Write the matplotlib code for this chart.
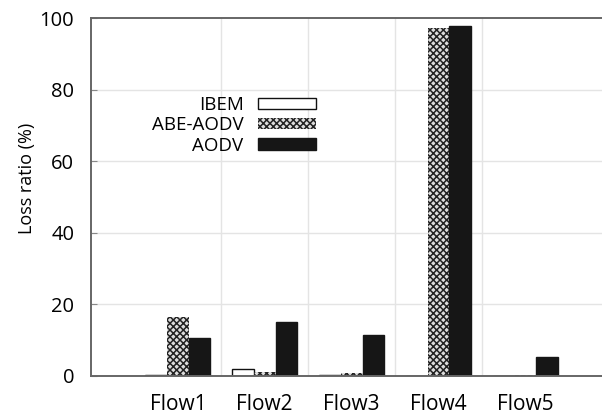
import numpy as np
import matplotlib
matplotlib.use("Agg")
import matplotlib.pyplot as plt

plt.rcParams['font.family'] = ['Open Sans', 'DejaVu Sans']
plt.rcParams['hatch.linewidth'] = 1.1

flows = ["Flow1", "Flow2", "Flow3", "Flow4", "Flow5"]
ibem = [0.2, 1.8, 0.2, 0.0, 0.0]
abe_aodv = [16.5, 1.2, 0.8, 97.2, 0.2]
aodv = [10.5, 15.1, 11.5, 97.8, 5.3]

x = np.arange(len(flows))
w = 0.25

fig = plt.figure(figsize=(6.02, 4.19), dpi=100)
ax = fig.add_axes([0.151, 0.103, 0.849, 0.854])

# light grid between the groups and at every y tick
for gx in x[:-1] + 0.5:
    ax.axvline(gx, color='#e4e4e4', lw=1, zorder=0)
for gy in [20, 40, 60, 80]:
    ax.axhline(gy, color='#e4e4e4', lw=1, zorder=0)

ax.bar(x - w, ibem, w, color='white', edgecolor='#111111', lw=1, label='IBEM', zorder=2)
ax.bar(x, abe_aodv, w, color='#dddddd', edgecolor='#222222', hatch='xxxxx', lw=0, label='ABE-AODV', zorder=2)
ax.bar(x + w, aodv, w, color='#161616', edgecolor='#161616', lw=1, label='AODV', zorder=2)

ax.set_xlim(-1.0, 4.88)
ax.set_ylim(0, 100)
ax.set_yticks([0, 20, 40, 60, 80, 100])
ax.set_xticks(x)
ax.set_xticklabels(flows)
ax.tick_params(axis='x', length=0, pad=13, labelsize=15)
ax.tick_params(axis='y', direction='in', length=4, color='#888888', pad=12, labelsize=14.5)
ax.set_ylabel("Loss ratio (%)", fontsize=13)
ax.yaxis.set_label_coords(-0.108, 0.553)

for side in ['left', 'top', 'bottom']:
    ax.spines[side].set_color('#666666')
    ax.spines[side].set_linewidth(1.4)
ax.spines['right'].set_visible(False)

ax.legend(loc='upper right', bbox_to_anchor=(0.44, 0.782), frameon=False,
          markerfirst=False, fontsize=13.5, handlelength=3.1, handleheight=0.55,
          labelspacing=0.12, handletextpad=0.75, borderpad=0, borderaxespad=0)

fig.savefig("out.png", dpi=100)
